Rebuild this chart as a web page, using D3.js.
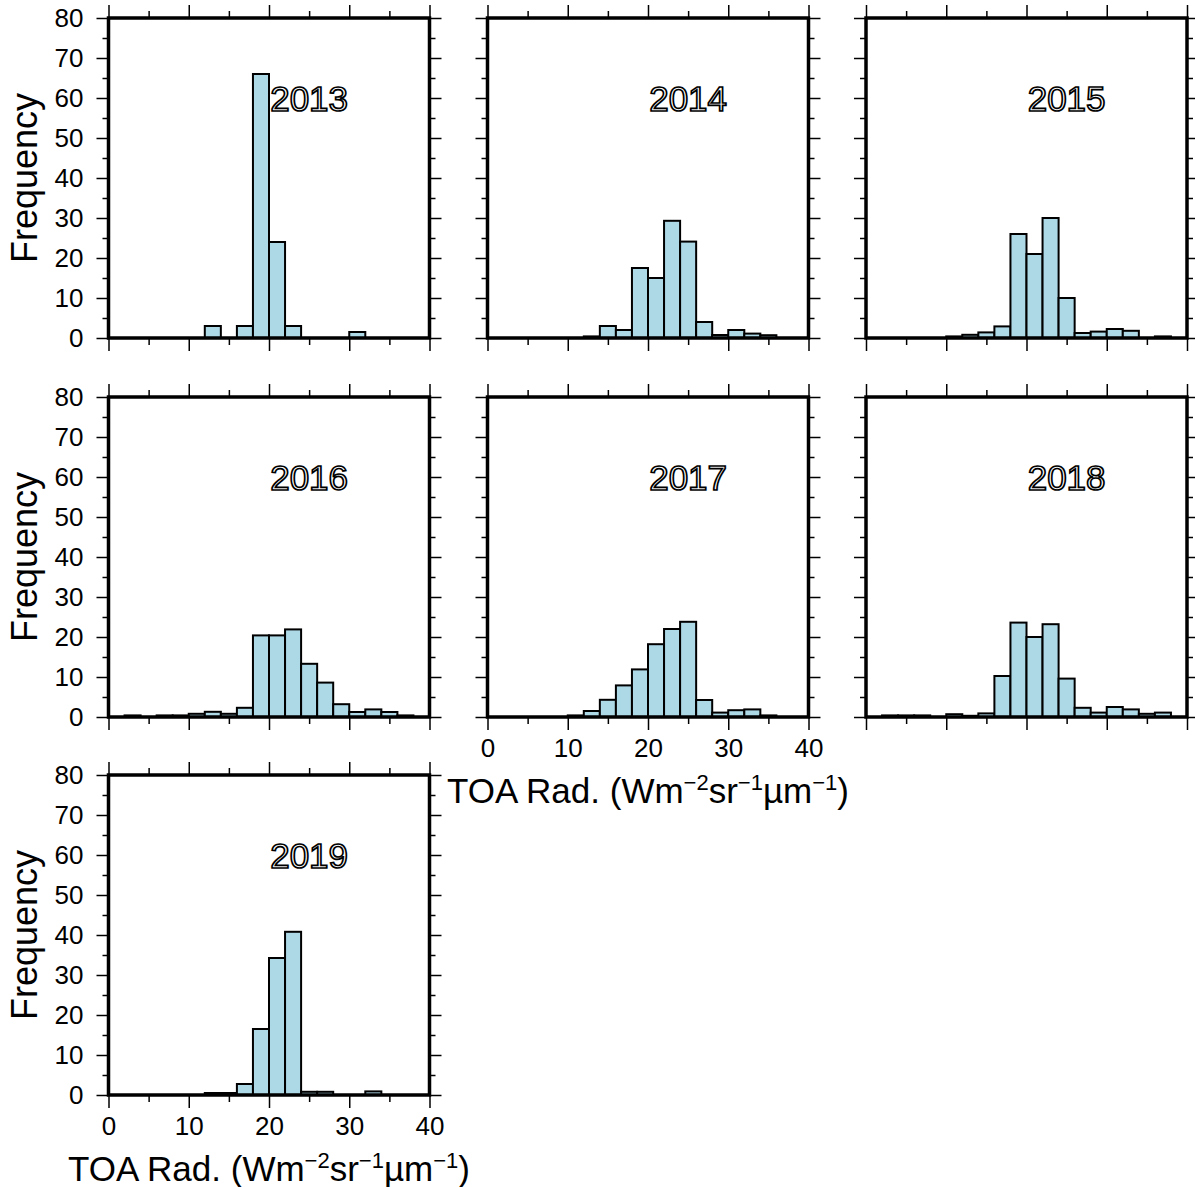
<!DOCTYPE html>
<html>
<head>
<meta charset="utf-8">
<script src="https://cdn.jsdelivr.net/npm/d3@7"></script>
<style>
  body { margin: 0; background: #fff; }
  text { font-family: "Liberation Sans", Helvetica, Arial, sans-serif; }
</style>
</head>
<body>
<div id="chart"></div>
<script>
// Histogram bins: 0-2, 2-4, ..., 38-40 (TOA radiance)
var BIN_EDGES = d3.range(0, 42, 2);
var YEARS = ["2013", "2014", "2015", "2016", "2017", "2018", "2019"];
var freq2013 = [0, 0, 0, 0, 0, 0, 3, 0, 3, 66, 24, 3, 0, 0, 0, 1.5, 0, 0, 0, 0];
var freq2014 = [0, 0, 0, 0, 0, 0, 0.4, 3, 2, 17.5, 15, 29.3, 24.1, 4, 0.75, 2, 1.1, 0.7, 0, 0];
var freq2015 = [0, 0, 0, 0, 0, 0.4, 0.8, 1.4, 2.9, 26, 21, 30, 10, 1.25, 1.6, 2.25, 1.8, 0, 0.4, 0];
var freq2016 = [0, 0.4, 0, 0.4, 0.4, 0.8, 1.3, 0.8, 2.3, 20.4, 20.4, 21.9, 13.3, 8.6, 3.2, 1.25, 1.9, 1.25, 0.4, 0];
var freq2017 = [0, 0, 0, 0, 0, 0.4, 1.5, 4.3, 7.9, 11.9, 18.2, 22, 23.8, 4.25, 1.1, 1.7, 1.9, 0.4, 0, 0];
var freq2018 = [0, 0.4, 0.4, 0.4, 0, 0.7, 0.3, 0.9, 10.25, 23.6, 20, 23.2, 9.6, 2.3, 1.1, 2.5, 1.9, 0.8, 1.1, 0];
var freq2019 = [0, 0, 0, 0, 0, 0, 0.5, 0.5, 2.75, 16.5, 34.25, 40.8, 0.8, 0.8, 0, 0, 0.9, 0, 0, 0];
var FREQS = [freq2013, freq2014, freq2015, freq2016, freq2017, freq2018, freq2019];

var X_TICKS = [0, 10, 20, 30, 40];
var X_MINOR = [5, 15, 25, 35];
var Y_TICKS = [0, 10, 20, 30, 40, 50, 60, 70, 80];
var Y_MINOR = [5, 15, 25, 35, 45, 55, 65, 75];

// layout
var W = 1195, H = 1187;
var pw = 321, ph = 320;
var colX = [108.5, 487.5, 866];
var rowY = [18, 397, 775];

var svg = d3.select("#chart").append("svg")
    .attr("width", W)
    .attr("height", H);

var x = d3.scaleLinear().domain([0, 40]).range([0, pw]);
var y = d3.scaleLinear().domain([0, 80]).range([ph, 0]);

function styleAxis(g) {
    g.select(".domain").remove();
    g.selectAll(".tick line").attr("stroke", "#000").attr("stroke-width", 1.5);
    g.selectAll(".tick text")
        .attr("fill", "#000")
        .style("font-size", "26px");
}

function drawPanel(i) {
    var col = i % 3, row = Math.floor(i / 3);
    var data = FREQS[i];
    var showY = (col == 0);
    var showX = (i == 4 || i == 6);

    var g = svg.append("g")
        .attr("transform", "translate(" + colX[col] + "," + rowY[row] + ")");

    // bars (empty bins are not drawn)
    var bins = data.map(function(v, k) { return {x0: BIN_EDGES[k], x1: BIN_EDGES[k + 1], v: v}; })
        .filter(function(d) { return d.v > 0; });
    g.selectAll("rect.bar")
        .data(bins)
        .enter().append("rect")
        .attr("class", "bar")
        .attr("x", function(d) { return x(d.x0); })
        .attr("width", function(d) { return x(d.x1) - x(d.x0); })
        .attr("y", function(d) { return y(d.v); })
        .attr("height", function(d) { return y(0) - y(d.v); })
        .attr("fill", "#add8e6")
        .attr("stroke", "#000")
        .attr("stroke-width", 2);

    // ticks on all four sides, pointing out
    g.append("g").call(d3.axisLeft(y).tickValues(Y_TICKS).tickSize(12).tickPadding(13)
        .tickFormat(showY ? d3.format("d") : function() { return ""; })).call(styleAxis);
    g.append("g").call(d3.axisLeft(y).tickValues(Y_MINOR).tickSize(6).tickFormat("")).call(styleAxis);
    g.append("g").attr("transform", "translate(" + pw + ",0)")
        .call(d3.axisRight(y).tickValues(Y_TICKS).tickSize(12).tickFormat("")).call(styleAxis);
    g.append("g").attr("transform", "translate(" + pw + ",0)")
        .call(d3.axisRight(y).tickValues(Y_MINOR).tickSize(6).tickFormat("")).call(styleAxis);
    g.append("g")
        .call(d3.axisTop(x).tickValues(X_TICKS).tickSize(13).tickFormat("")).call(styleAxis);
    g.append("g")
        .call(d3.axisTop(x).tickValues(X_MINOR).tickSize(7).tickFormat("")).call(styleAxis);
    g.append("g").attr("transform", "translate(0," + ph + ")")
        .call(d3.axisBottom(x).tickValues(X_TICKS).tickSize(13).tickPadding(9)
            .tickFormat(showX ? d3.format("d") : function() { return ""; })).call(styleAxis);
    g.append("g").attr("transform", "translate(0," + ph + ")")
        .call(d3.axisBottom(x).tickValues(X_MINOR).tickSize(7).tickFormat("")).call(styleAxis);

    // frame
    g.append("rect")
        .attr("width", pw).attr("height", ph)
        .attr("fill", "none")
        .attr("stroke", "#000")
        .attr("stroke-width", 3.5);

    // year label (outlined)
    g.append("text")
        .attr("x", x(25))
        .attr("y", y(60))
        .attr("dy", "0.36em")
        .attr("text-anchor", "middle")
        .style("font-size", "35px")
        .attr("fill", "#fff")
        .attr("stroke", "#000")
        .attr("stroke-width", 1.7)
        .text(YEARS[i]);

    if (showY) {
        g.append("text")
            .attr("transform", "translate(-72," + (ph / 2) + ") rotate(-90)")
            .attr("text-anchor", "middle")
            .style("font-size", "36px")
            .attr("fill", "#000")
            .text("Frequency");
    }

    if (showX) {
        var t = g.append("text")
            .attr("x", pw / 2)
            .attr("y", ph + 86)
            .attr("text-anchor", "middle")
            .style("font-size", "35px")
            .attr("fill", "#000");
        t.append("tspan").text("TOA Rad. (Wm");
        t.append("tspan").attr("dy", -13).style("font-size", "22px").text("\u22122");
        t.append("tspan").attr("dy", 13).text("sr");
        t.append("tspan").attr("dy", -13).style("font-size", "22px").text("\u22121");
        t.append("tspan").attr("dy", 13).text("\u00b5m");
        t.append("tspan").attr("dy", -13).style("font-size", "22px").text("\u22121");
        t.append("tspan").attr("dy", 13).text(")");
    }
}

YEARS.forEach(function(yr, i) { drawPanel(i); });
</script>
</body>
</html>
